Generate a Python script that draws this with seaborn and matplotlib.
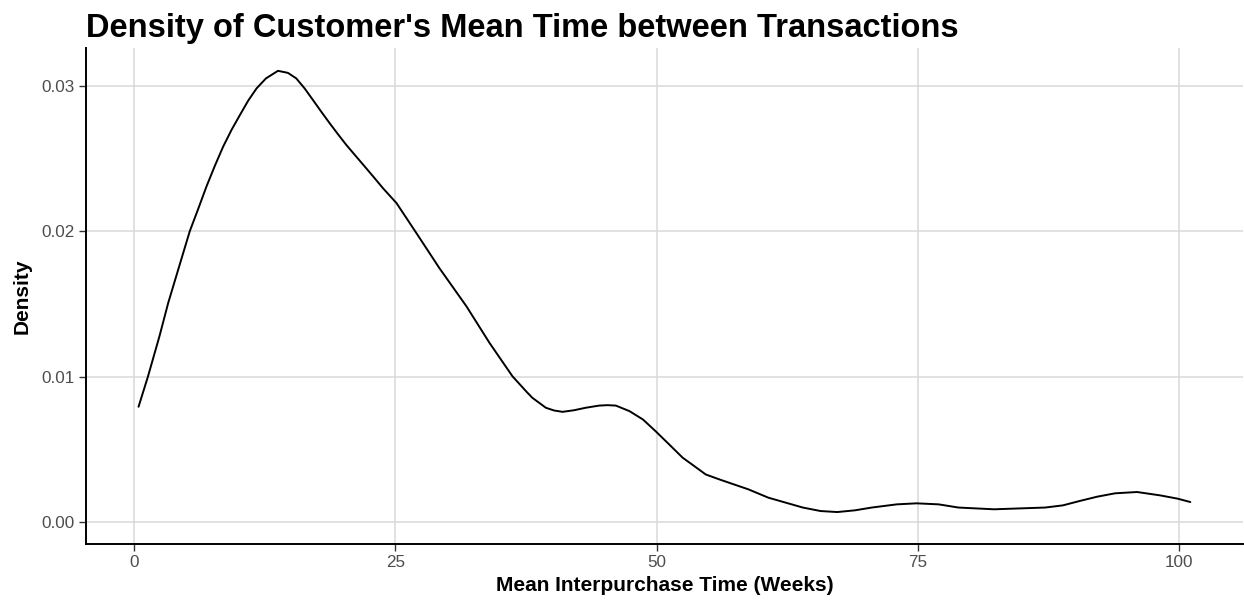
import matplotlib
matplotlib.use("Agg")
import matplotlib.pyplot as plt
import seaborn as sns
import pandas as pd

# density curve
weeks = [0.4, 1.3, 2.4, 3.24, 4.0, 5.3, 6.1, 6.9, 7.7, 8.5, 9.3, 10.1, 10.9, 11.7,
         12.6, 13.75, 14.7, 15.5, 16.3, 17.1, 17.9, 18.7, 19.5, 20.3, 21.25, 22.2,
         23.0, 23.8, 25.1, 27.0, 29.2, 31.8, 34.0, 36.2, 37.5, 38.1, 39.4, 40.2,
         41.0, 42.1, 43.2, 44.5, 45.3, 46.1, 47.4, 48.7, 49.9, 51.2, 52.5, 53.6,
         54.7, 56.0, 58.8, 60.7, 64.0, 65.7, 67.3, 69.0, 70.6, 73.0, 74.9, 77.0,
         78.9, 82.3, 87.2, 88.9, 90.5, 92.2, 93.9, 96.0, 98.2, 99.9, 101.1]
density = [0.00792, 0.0100, 0.01277, 0.01507, 0.01689, 0.0200, 0.02152, 0.02308,
           0.0245, 0.02583, 0.02698, 0.0280, 0.0290, 0.02984, 0.03053, 0.03105,
           0.03091, 0.03053, 0.02984, 0.02904, 0.02823, 0.02744, 0.02668, 0.02594,
           0.02514, 0.02434, 0.02366, 0.02297, 0.02194, 0.01988, 0.01747, 0.01483,
           0.01232, 0.01002, 0.00899, 0.00854, 0.00785, 0.00766, 0.00757, 0.00768,
           0.00785, 0.0080, 0.00803, 0.0080, 0.00762, 0.00704, 0.00624, 0.00533,
           0.00441, 0.00384, 0.00326, 0.00292, 0.00223, 0.00166, 0.00098, 0.00074,
           0.00067, 0.00079, 0.00098, 0.0012, 0.00127, 0.0012, 0.00098, 0.00086,
           0.00098, 0.00113, 0.00143, 0.00173, 0.00196, 0.00205, 0.00182, 0.00159,
           0.00136]
x_ticks = [0, 25, 50, 75, 100]
y_ticks = [0.00, 0.01, 0.02, 0.03]
y_tick_labels = ["0.00", "0.01", "0.02", "0.03"]

df = pd.DataFrame({"weeks": weeks, "density": density})

sns.set_theme(style="whitegrid")
plt.rcParams["font.family"] = ["Liberation Sans", "DejaVu Sans"]

fig = plt.figure(figsize=(12.44, 6.02), dpi=100)
ax = fig.add_axes([0.0691, 0.0958, 0.93, 0.824])

sns.lineplot(data=df, x="weeks", y="density", color="black", linewidth=1.4, ax=ax)

# ggplot-style 5% expansion
xr = max(weeks) - min(weeks)
ax.set_xlim(min(weeks) - 0.05 * xr, max(weeks) + 0.05 * xr)
yr = max(density)
ax.set_ylim(-0.05 * yr, yr * 1.05)

ax.set_xticks(x_ticks)
ax.set_yticks(y_ticks)
ax.set_yticklabels(y_tick_labels)
ax.grid(True, color="#d9d9d9", linewidth=1.1)
ax.set_axisbelow(True)

for side in ["top", "right"]:
    ax.spines[side].set_visible(False)
for side in ["left", "bottom"]:
    ax.spines[side].set_color("black")
    ax.spines[side].set_linewidth(1.4)

ax.tick_params(axis="both", length=5, width=1, color="#333333",
               labelsize=12.3, labelcolor="#4d4d4d", pad=3)
ax.tick_params(axis="both", which="both", bottom=True, left=True)

ax.set_xlabel("Mean Interpurchase Time (Weeks)", fontsize=15, fontweight="bold",
              color="black", labelpad=4)
ax.set_ylabel("Density", fontsize=15, fontweight="bold", color="black", labelpad=7)
ax.set_title("Density of Customer's Mean Time between Transactions", loc="left",
             fontsize=23.5, fontweight="bold", color="black", pad=8)

fig.savefig("out.png", dpi=100)
